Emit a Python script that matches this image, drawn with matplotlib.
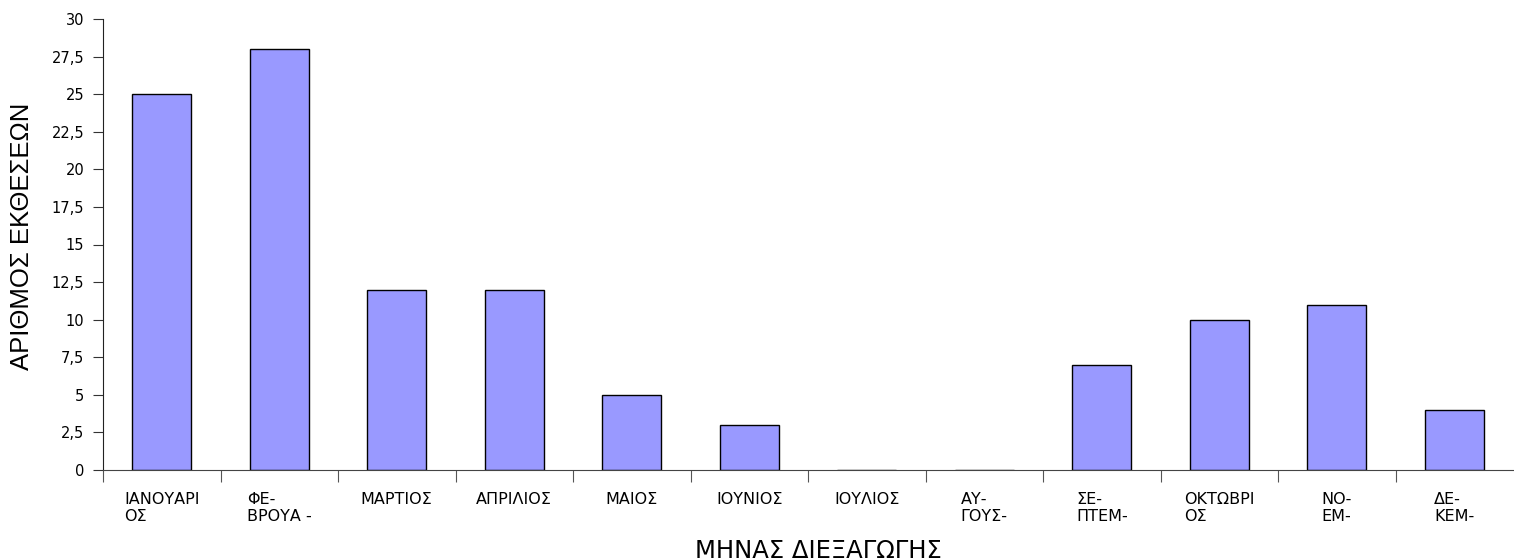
#!/usr/bin/env python
#
# Exhibitions per month (bar chart)
#
import numpy as np
import matplotlib.pyplot as plt

plt.rcParams['font.family'] = ['Liberation Sans', 'DejaVu Sans']

months = ['ΙΑΝΟΥΑΡΙ\nΟΣ', 'ΦΕ-\nΒΡΟΥΑ -', 'ΜΑΡΤΙΟΣ', 'ΑΠΡΙΛΙΟΣ', 'ΜΑΙΟΣ',
          'ΙΟΥΝΙΟΣ', 'ΙΟΥΛΙΟΣ', 'ΑΥ-\nΓΟΥΣ-', 'ΣΕ-\nΠΤΕΜ-', 'ΟΚΤΩΒΡΙ\nΟΣ',
          'ΝΟ-\nΕΜ-', 'ΔΕ-\nΚΕΜ-']
counts = [25, 28, 12, 12, 5, 3, 0, 0, 7, 10, 11, 4]
yticks = np.arange(0, 30.1, 2.5)

W, H = 1514, 560
fig = plt.figure(figsize=(W / 100, H / 100), dpi=100)
ax = fig.add_axes([103 / W, 90 / H, 1410 / W, 451 / H])

x = np.arange(len(months)) + 0.5
ax.bar(x, counts, width=0.5, color='#9999ff', edgecolor='black', linewidth=1)

ax.set_xlim(0, len(months))
ax.set_ylim(0, 30)
ax.set_yticks(yticks)
ax.set_yticklabels([('%g' % v).replace('.', ',') for v in yticks],
                   fontsize=10.5, family='DejaVu Sans')
ax.tick_params(axis='y', length=7, width=0.8, color='#333333', pad=6.5)

# ticks between the months, labels in the middle
ax.set_xticks(np.arange(len(months)))
ax.set_xticklabels([])
ax.set_xticks(x, minor=True)
ax.set_xticklabels(months, minor=True, fontsize=11.5, family='DejaVu Sans',
                   multialignment='left', linespacing=1.12)
ax.tick_params(axis='x', which='major', length=8.6, width=0.8, color='#555555')
ax.tick_params(axis='x', which='minor', length=0, pad=16)

fig.text(22 / W, 1 - 236 / H, 'ΑΡΙΘΜΟΣ ΕΚΘΕΣΕΩΝ', rotation=90,
         ha='center', va='center', fontsize=18.5)
fig.text(818 / W, 1 - 558 / H, 'ΜΗΝΑΣ ΔΙΕΞΑΓΩΓΗΣ', ha='center',
         va='baseline', fontsize=17.5, family='DejaVu Sans')

ax.spines[['right', 'top']].set_visible(False)
ax.spines['left'].set_color('#222222')
ax.spines['bottom'].set_color('#444444')

fig.savefig('out.png', dpi=100)
